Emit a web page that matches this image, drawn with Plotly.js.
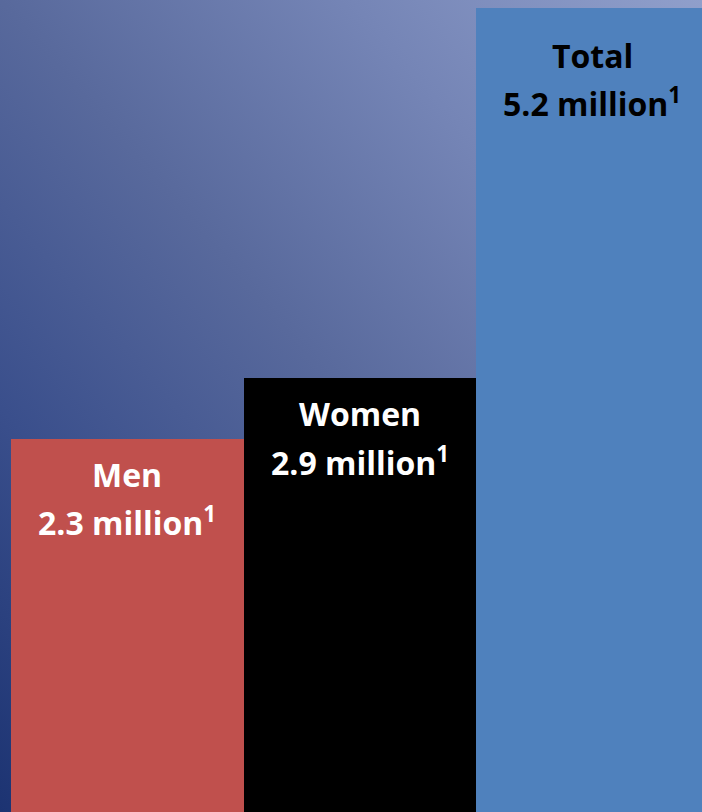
<!DOCTYPE html>
<html>
<head>
<meta charset="utf-8">
<script src="https://cdn.plot.ly/plotly-3.0.1.min.js"></script>
<style>
  html, body { margin: 0; padding: 0; width: 702px; height: 812px; overflow: hidden; }
  #chart {
    width: 702px; height: 812px;
    background: linear-gradient(to top right, #1C3372 0%, #3A4F8C 25%, #58699C 50%, #7585B6 75%, #909FCB 100%);
  }
</style>
</head>
<body>
<div id="chart"></div>
<script>
// Data
const categories = ["Men", "Women", "Total"];
const labelValues = [2.3, 2.9, 5.2];          // millions, as labelled
const barHeights = [2.41, 2.81, 5.2];          // bar heights as drawn in the picture
const barColors = ["#C0504D", "#000000", "#4F81BD"];
const textColors = ["#FFFFFF", "#FFFFFF", "#000000"];

const font = "'Open Sans', 'Noto Sans', sans-serif";
const fontSize = 32;
const nameShift = [-35, -36, -47];
const lineGap = 47;

const annotations = [];
categories.forEach((c, i) => {
  annotations.push({
    x: c, y: barHeights[i], xref: "x", yref: "y",
    text: c,
    showarrow: false, xanchor: "center", yanchor: "middle",
    yshift: nameShift[i],
    font: { family: font, size: fontSize, color: textColors[i], weight: "bold" }
  });
  annotations.push({
    x: c, y: barHeights[i], xref: "x", yref: "y",
    text: labelValues[i].toFixed(1) + " million<sup>1</sup>",
    showarrow: false, xanchor: "center", yanchor: "middle",
    yshift: nameShift[i] - lineGap,
    font: { family: font, size: fontSize, color: textColors[i], weight: "bold" }
  });
});

const trace = {
  type: "bar",
  x: categories,
  y: barHeights,
  marker: { color: barColors, line: { width: 0 } },
  hoverinfo: "skip"
};

const layout = {
  width: 702, height: 812,
  margin: { l: 11, r: 0, t: 0, b: 0, pad: 0 },
  paper_bgcolor: "rgba(0,0,0,0)",
  plot_bgcolor: "rgba(0,0,0,0)",
  bargap: 0,
  showlegend: false,
  xaxis: { visible: false, range: [-0.5, 2.472], fixedrange: true },
  yaxis: { visible: false, range: [0, 5.252], fixedrange: true },
  annotations: annotations
};

Plotly.newPlot("chart", [trace], layout, { displayModeBar: false });
</script>
</body>
</html>
